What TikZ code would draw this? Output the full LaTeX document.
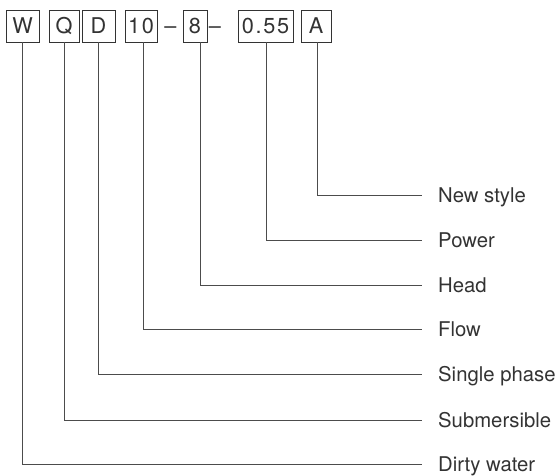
\documentclass[tikz,border=0pt]{standalone}
\usepackage{fontspec}
\setmainfont{TeX Gyre Heros}
\usetikzlibrary{positioning}

\begin{document}
\begin{tikzpicture}[x=1pt,y=-1pt,
	every node/.style={font=\fontsize{20.3}{24}\selectfont, text=black!80},
	cell/.style={draw=black!80, line width=0.9pt, minimum height=32pt, inner sep=0pt, text height=15.6pt, text depth=0pt, font=\fontsize{21.7}{24}\selectfont\addfontfeature{LetterSpace=8}},
	sep/.style={inner sep=0pt, text height=15.6pt, text depth=0pt, font=\fontsize{21.7}{24}\selectfont},
	tag/.style={anchor=west, inner xsep=16pt, inner ysep=0pt, text height=15pt, text depth=0pt},
	wire/.style={draw=black!70, line width=0.9pt}]
	\useasboundingbox (0,0) rectangle (557,476);
	% code boxes
	\node[cell, minimum width=33pt] (w) at (22.5,26) {W};
	\node[cell, minimum width=30pt] (q) at (64,26) {Q};
	\node[cell, minimum width=33pt] (d) at (98.5,26) {D};
	\node[cell, minimum width=32pt] (flowbox) at (141,26) {10};
	\node[sep] (dash1) at (170.5,26) {--};
	\node[cell, minimum width=24pt] (headbox) at (195,26) {8};
	\node[sep] (dash2) at (215,26) {--};
	\node[cell, minimum width=55pt] (powerbox) at (265.5,26) {0.55};
	\node[cell, minimum width=30pt] (a) at (316,26) {A};
	
	% meanings
	\node[tag] (style) at (422,195) {New style};
	\node[tag] (power) at (422,240) {Power};
	\node[tag] (head) at (422,285) {Head};
	\node[tag] (flow) at (422,329) {Flow};
	\node[tag] (phase) at (422,374) {Single phase};
	\node[tag] (sub) at (422,420) {Submersible};
	\node[tag] (dirty) at (422,464) {Dirty water};
	
	\path[wire] ([xshift=1pt]a.south) |- (style.west);
	\path[wire] ([xshift=1pt]powerbox.south) |- (power.west);
	\path[wire] ([xshift=5pt]headbox.south) |- (head.west);
	\path[wire] ([xshift=2pt]flowbox.south) |- (flow.west);
	\path[wire] (d.south) |- (phase.west);
	\path[wire] (q.south) |- (sub.west);
	\path[wire] (w.south) |- (dirty.west);
\end{tikzpicture}
\end{document}
